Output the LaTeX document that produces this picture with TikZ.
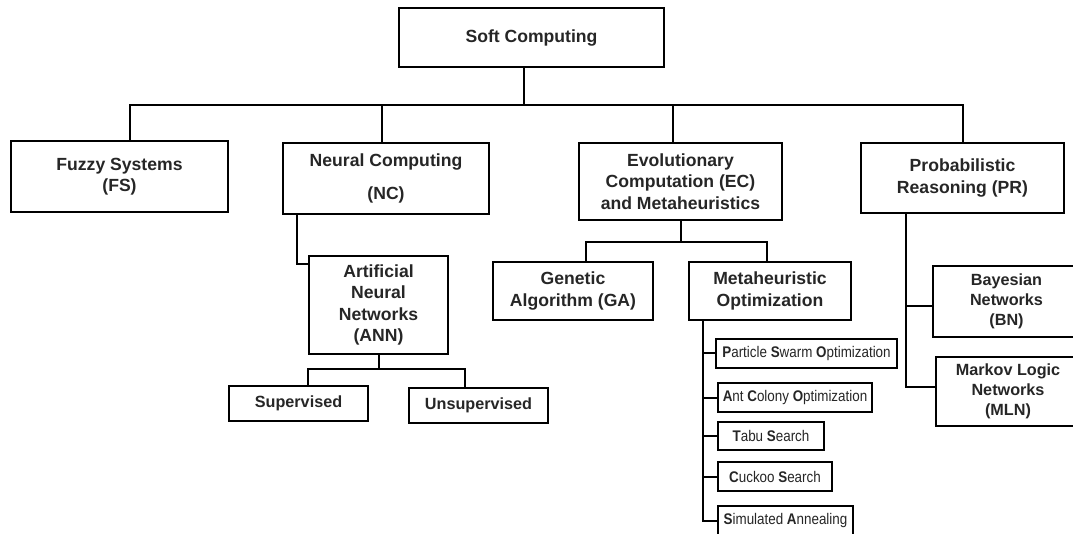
\documentclass[tikz,border=0pt]{standalone}
\usepackage{fontspec}
\setmainfont{Liberation Sans}
\newfontfamily\narrowfont[FakeStretch=0.87]{Liberation Sans}
\definecolor{txt}{HTML}{262626}
\begin{document}
\begin{tikzpicture}[x=1pt,y=-1pt,
  box/.style={draw=black, line width=2.6pt, rectangle, inner sep=0pt, outer sep=0pt, align=center, text=txt,
    font=\bfseries\fontsize{17.6}{21.5}\selectfont},
  midbox/.style={box, font=\bfseries\fontsize{16.2}{20}\selectfont},
  sbox/.style={box, font=\narrowfont\fontsize{15.4}{18}\selectfont},
  conn/.style={line width=2pt, draw=black},
]
\useasboundingbox (0,0) rectangle (1073,534);
\fill[white] (0,0) rectangle (1073,534);
\clip (0,0) rectangle (1073,534);

\node[box, minimum width=265pt, minimum height=59pt] (sc) at (531.5,37.5) {Soft Computing};
\node[box, minimum width=217pt, minimum height=71pt] (fs) at (119.5,176.5) {Fuzzy Systems\\(FS)};
\node[box, minimum width=206pt, minimum height=71pt] (nc) at (386,178.5) {Neural Computing\\[11pt](NC)};
\node[box, minimum width=203pt, minimum height=77pt] (ec) at (680.5,181.5) {Evolutionary\\Computation (EC)\\and Metaheuristics};
\node[box, minimum width=203pt, minimum height=70pt] (pr) at (962.5,178) {Probabilistic\\Reasoning (PR)};

\node[box, minimum width=139pt, minimum height=98pt] (ann) at (378.5,305) {Artificial\\Neural\\Networks\\(ANN)};
\node[midbox, minimum width=139pt, minimum height=35pt] (sup) at (298.5,403.5) {Supervised};
\node[midbox, minimum width=139pt, minimum height=35pt] (unsup) at (478.5,405.5) {Unsupervised};

\node[box, minimum width=160pt, minimum height=58pt] (ga) at (573,291) {Genetic\\Algorithm (GA)};
\node[box, minimum width=162pt, minimum height=58pt] (mo) at (770,291) {Metaheuristic\\Optimization};

\node[sbox, minimum width=181pt, minimum height=29pt] (pso) at (806.5,353.5) {\textbf{P}article \textbf{S}warm \textbf{O}ptimization};
\node[sbox, minimum width=154pt, minimum height=29pt] (aco) at (795,397.5) {\textbf{A}nt \textbf{C}olony \textbf{O}ptimization};
\node[sbox, minimum width=106pt, minimum height=28pt] (tabu) at (771,436) {\textbf{T}abu \textbf{S}earch};
\node[sbox, minimum width=114pt, minimum height=29pt] (cuckoo) at (775,476.5) {\textbf{C}uckoo \textbf{S}earch};
\node[sbox, minimum width=135pt, minimum height=30pt] (sa) at (785.5,521) {\textbf{S}imulated \textbf{A}nnealing};

\node[midbox, minimum width=147pt, minimum height=71pt] (bn) at (1006.5,301.5) {Bayesian\\Networks\\(BN)};
\node[midbox, minimum width=144pt, minimum height=69pt] (mln) at (1008,391.5) {Markov Logic\\Networks\\(MLN)};

% top level connectors
\draw[conn] ([xshift=-7.5pt]sc.south) -- ++(0,38) coordinate (bus);
\draw[conn] ([xshift=10.5pt]fs.north) |- (bus) -| (pr.north);
\draw[conn] ([xshift=-4.5pt]nc.north) -- ([xshift=-4.5pt]nc.north |- bus);
\draw[conn] ([xshift=-7.5pt]ec.north) -- ([xshift=-7.5pt]ec.north |- bus);

% NC -> ANN
\draw[conn] ([xshift=14pt]nc.south west) |- ([yshift=-8pt]ann.north west);

% ANN -> sup / unsup
\draw[conn] (ann.south) -- ++(0,15) coordinate (annbus);
\draw[conn] ([xshift=9.5pt]sup.north) |- (annbus) -| ([xshift=-13.5pt]unsup.north);

% EC -> GA / MO
\draw[conn] (ec.south) -- ++(0,22) coordinate (ecbus);
\draw[conn] ([xshift=13pt]ga.north) |- (ecbus) -| ([xshift=-3pt]mo.north);

% MO -> list
\coordinate (mov) at ([xshift=14pt]mo.south west);
\draw[conn] (mov) |- (sa.west);
\draw[conn] (mov |- pso.west) -- (pso.west);
\draw[conn] (mov |- aco.west) -- (aco.west);
\draw[conn] (mov |- tabu.west) -- (tabu.west);
\draw[conn] (mov |- cuckoo.west) -- (cuckoo.west);

% PR -> BN / MLN
\coordinate (prv) at ([xshift=45pt]pr.south west);
\draw[conn] (prv) |- ([yshift=4.5pt]mln.west);
\draw[conn] (prv |- bn.west) ++(0,4.5) -- ([yshift=-4.5pt]bn.west);
\end{tikzpicture}
\end{document}
